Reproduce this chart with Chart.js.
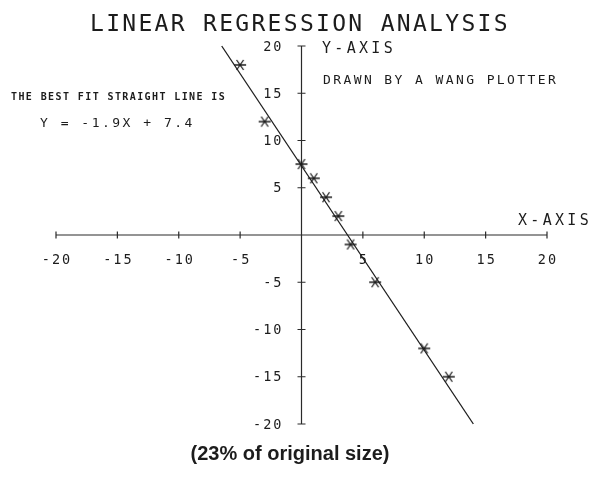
<!DOCTYPE html>
<html>
<head>
<meta charset="utf-8">
<style>
    html, body { margin: 0; padding: 0; background: #fff; }
    canvas { display: block; }
</style>
<script src="https://cdn.jsdelivr.net/npm/chart.js@4/dist/chart.umd.min.js"></script>
</head>
<body>
<canvas id="regression-chart" width="596" height="477"></canvas>
<script>
// observed samples (asterisks)
const sampleX = [-5, -3, 0, 1, 2, 3, 4, 6, 10, 12];
const sampleY = [18, 12, 7.5, 6, 4, 2, -1, -5, -12, -15];

// ends of the drawn best-fit line
const fitX = [-6.5, 14];
const fitY = [20, -20];

// axis ticks (zero carries no label)
const xTicks = [-20, -15, -10, -5, 5, 10, 15, 20];
const yTicks = [20, 15, 10, 5, -5, -10, -15, -20];
const axisMin = -20;
const axisMax = 20;

const INK = '#1c1c1c';
const MONO = '"DejaVu Sans Mono", "Liberation Mono", monospace';

const makeStar = () => {
    const c = document.createElement('canvas');
    c.width = 14;
    c.height = 12;
    const g = c.getContext('2d');
    g.strokeStyle = INK;
    g.lineWidth = 1.3;
    g.beginPath();
    g.moveTo(1, 6); g.lineTo(13, 6);
    g.moveTo(3.5, 1); g.lineTo(10.5, 11);
    g.moveTo(10.5, 1); g.lineTo(3.5, 11);
    g.stroke();
    return c;
};

const spacedText = (ctx, text, x, y, font, spacing, align) => {
    ctx.font = font;
    if ('letterSpacing' in ctx) {
        ctx.letterSpacing = `${spacing}px`;
    }
    ctx.textAlign = align;
    let dx = 0;
    if (align === 'center') dx = spacing / 2;
    if (align === 'right') dx = spacing;
    ctx.fillText(text, x + dx, y);
};

const plotterAxes = {
    id: 'plotterAxes',
    beforeDatasetsDraw(chart) {
        const { ctx, scales: { x, y } } = chart;
        const x0 = x.getPixelForValue(0);
        const y0 = y.getPixelForValue(0);

        ctx.save();
        ctx.strokeStyle = '#2a2a2a';
        ctx.lineWidth = 1.2;
        ctx.beginPath();
        ctx.moveTo(x.getPixelForValue(axisMin), y0);
        ctx.lineTo(x.getPixelForValue(axisMax), y0);
        ctx.moveTo(x0, y.getPixelForValue(axisMax));
        ctx.lineTo(x0, y.getPixelForValue(axisMin));
        xTicks.forEach((v) => {
            const px = x.getPixelForValue(v);
            ctx.moveTo(px, y0 - 3.5);
            ctx.lineTo(px, y0 + 3.5);
        });
        yTicks.forEach((v) => {
            const py = y.getPixelForValue(v);
            ctx.moveTo(x0 - 4, py);
            ctx.lineTo(x0 + 4, py);
        });
        ctx.stroke();

        ctx.fillStyle = INK;
        ctx.textBaseline = 'middle';
        xTicks.forEach((v) => {
            spacedText(ctx, String(v), x.getPixelForValue(v), y0 + 25, `13.5px ${MONO}`, 2, 'center');
        });
        yTicks.forEach((v) => {
            spacedText(ctx, String(v), x0 - 20, y.getPixelForValue(v) + 1, `13.5px ${MONO}`, 2, 'right');
        });
        ctx.restore();
    },
    afterDraw(chart) {
        const { ctx } = chart;
        ctx.save();
        ctx.fillStyle = INK;
        ctx.textBaseline = 'alphabetic';

        spacedText(ctx, 'LINEAR REGRESSION ANALYSIS', 90, 31, `23px ${MONO}`, 2.3, 'left');
        spacedText(ctx, 'Y-AXIS', 322, 53, `15px ${MONO}`, 3.3, 'left');
        spacedText(ctx, 'DRAWN BY A WANG PLOTTER', 323, 84, `13px ${MONO}`, 2.4, 'left');
        spacedText(ctx, 'THE BEST FIT STRAIGHT LINE IS', 11, 100, `bold 10px ${MONO}`, 1.4, 'left');
        spacedText(ctx, 'Y = -1.9X + 7.4', 40, 127, `13px ${MONO}`, 2.5, 'left');
        spacedText(ctx, 'X-AXIS', 518, 225, `15px ${MONO}`, 3.3, 'left');

        spacedText(ctx, '(23% of original size)', 290, 460, 'bold 20px "Liberation Sans", Arial, sans-serif', 0, 'center');
        ctx.restore();
    },
};

const init = () => {
    const canvas = document.getElementById('regression-chart');
    const star = makeStar();

    new Chart(canvas, {
        type: 'scatter',
        data: {
            datasets: [
                {
                    label: 'Best fit',
                    type: 'line',
                    data: fitX.map((v, i) => ({ x: v, y: fitY[i] })),
                    borderColor: INK,
                    borderWidth: 1.3,
                    pointRadius: 0,
                    fill: false,
                    clip: false,
                },
                {
                    label: 'Samples',
                    data: sampleX.map((v, i) => ({ x: v, y: sampleY[i] })),
                    pointStyle: star,
                    pointRadius: 6,
                    clip: false,
                },
            ],
        },
        options: {
            responsive: false,
            animation: false,
            events: [],
            layout: {
                padding: { left: 56, right: 49, top: 46, bottom: 53 },
            },
            plugins: {
                legend: { display: false },
                tooltip: { enabled: false },
            },
            scales: {
                x: { type: 'linear', min: axisMin, max: axisMax, display: false },
                y: { type: 'linear', min: axisMin, max: axisMax, display: false },
            },
        },
        plugins: [plotterAxes],
    });
};

if (document.readyState === 'loading') {
    document.addEventListener('DOMContentLoaded', init);
} else {
    init();
}
</script>
</body>
</html>
